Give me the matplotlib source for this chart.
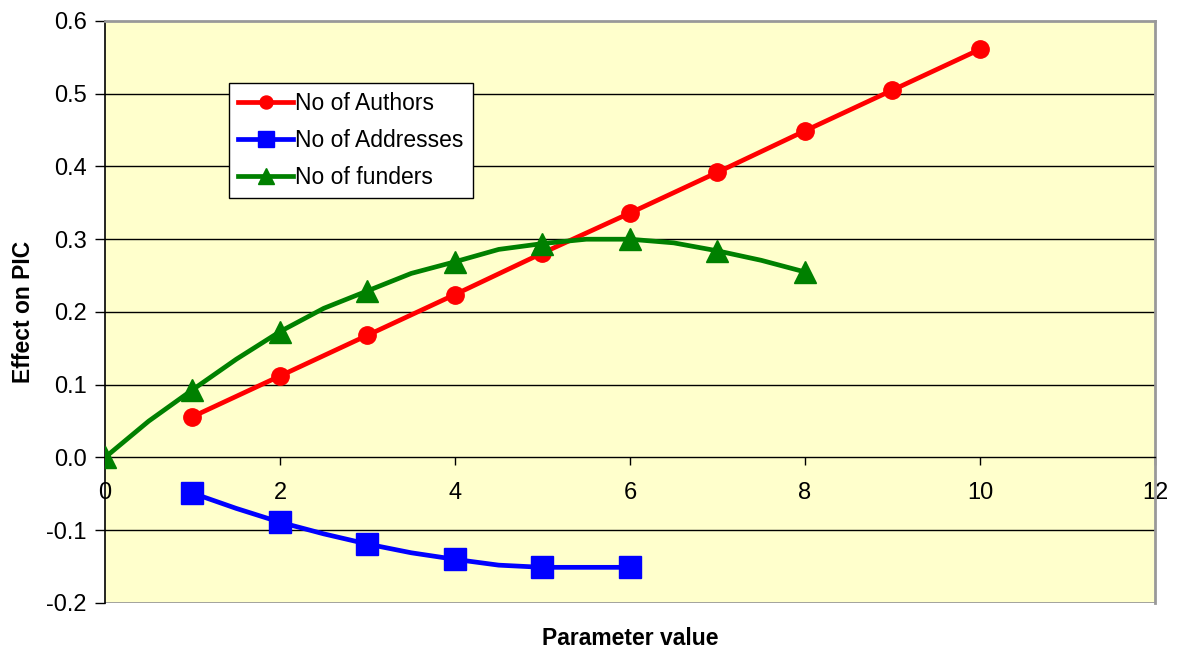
import matplotlib
matplotlib.use("Agg")
import matplotlib.pyplot as plt
from matplotlib.ticker import FuncFormatter

plt.rcParams['font.family'] = ['Liberation Sans', 'DejaVu Sans']
plt.rcParams['axes.unicode_minus'] = False

# authors: straight line, one point per parameter value
authors_x = [1, 2, 3, 4, 5, 6, 7, 8, 9, 10]
authors_y = [0.056, 0.112, 0.168, 0.224, 0.281, 0.336, 0.392, 0.449, 0.505, 0.561]

# addresses and funders have half-step points on the curve, markers on whole values only
addresses_x = [1, 1.5, 2, 2.5, 3, 3.5, 4, 4.5, 5, 5.5, 6]
addresses_y = [-0.049, -0.070, -0.089, -0.105, -0.119, -0.131, -0.140, -0.148, -0.151, -0.151, -0.151]

funders_x = [0, 0.5, 1, 1.5, 2, 2.5, 3, 3.5, 4, 4.5, 5, 5.5, 6, 6.5, 7, 7.5, 8]
funders_y = [0.0, 0.050, 0.093, 0.135, 0.173, 0.205, 0.229, 0.253, 0.269, 0.286,
             0.294, 0.300, 0.300, 0.295, 0.284, 0.271, 0.255]

fig = plt.figure(figsize=(11.77, 6.53), dpi=100)
ax = fig.add_axes([0.0892, 0.0766, 0.8921, 0.8913])
ax.set_facecolor('#FFFFCC')

lw = 3.4
ax.plot(authors_x, authors_y, color='#FF0000', lw=lw, marker='o', markersize=12.5,
        label='No of Authors', zorder=4)
ax.plot(addresses_x, addresses_y, color='#0000FF', lw=lw, marker='s', markersize=15.5,
        markevery=list(range(0, len(addresses_x), 2)), label='No of Addresses', zorder=4)
ax.plot(funders_x, funders_y, color='#008000', lw=lw, marker='^', markersize=16,
        markevery=list(range(0, len(funders_x), 2)), label='No of funders', zorder=5)

ax.set_xlim(0, 12)
ax.set_ylim(-0.2, 0.6)
ax.set_xticks(range(0, 13, 2))
ax.set_yticks([-0.2, -0.1, 0.0, 0.1, 0.2, 0.3, 0.4, 0.5, 0.6])
ax.yaxis.set_major_formatter(FuncFormatter(lambda v, p: f"{v:.1f}"))

# horizontal gridlines
for y in [-0.1, 0.1, 0.2, 0.3, 0.4, 0.5]:
    ax.axhline(y, color='black', lw=1, zorder=1)

ax.spines['bottom'].set_position(('data', 0))
ax.spines['bottom'].set_color('black')
ax.spines['bottom'].set_linewidth(1)
ax.spines['left'].set_color('black')
ax.spines['left'].set_linewidth(1.2)
for s in ['top', 'right']:
    ax.spines[s].set_color('#999999')
    ax.spines[s].set_linewidth(2)
ax.axhline(-0.2, color='#999999', lw=2, zorder=1)

ax.tick_params(axis='x', direction='out', length=6, width=1, labelsize=17, pad=12)
ax.tick_params(axis='y', direction='out', length=7, width=1, labelsize=17, pad=6)

ax.set_ylabel('Effect on PIC', fontsize=16.5, fontweight='bold', labelpad=8)
fig.text(0.5352, 0.012, 'Parameter value', fontsize=16.5, fontweight='bold', ha='center')

leg = ax.legend(loc='upper left', bbox_to_anchor=(0.118, 0.893), borderaxespad=0,
                fontsize=16.5, frameon=True, fancybox=False, edgecolor='black',
                handlelength=2.4, handletextpad=0.1, labelspacing=0.6,
                borderpad=0.4, markerscale=0.75)
leg.get_frame().set_linewidth(1)
leg.get_frame().set_facecolor('white')
leg.get_frame().set_alpha(1)
leg.set_zorder(6)

fig.savefig('out.png', dpi=100)
